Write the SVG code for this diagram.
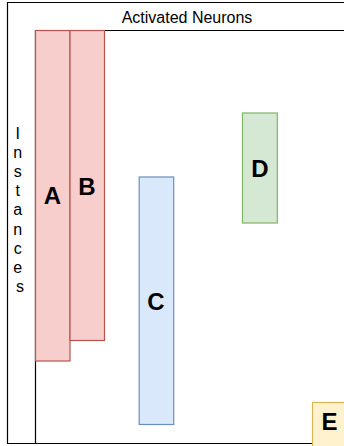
<svg xmlns="http://www.w3.org/2000/svg" width="344" height="446" viewBox="0 0 344 446">
  <style>
    .frame { fill: none; stroke: #000; stroke-width: 1.2; }
    .lbl { font-family: "Liberation Sans", Arial, sans-serif; font-weight: bold; font-size: 24px; text-anchor: middle; fill: #000; }
    .txt { font-family: "Liberation Sans", Arial, sans-serif; font-size: 16px; text-anchor: middle; fill: #000; }
    .red { fill: #f8cecc; stroke: #b85450; stroke-width: 1.2; }
    .blue { fill: #dae8fc; stroke: #6c8ebf; stroke-width: 1.2; }
    .green { fill: #d5e8d4; stroke: #82b366; stroke-width: 1.2; }
    .yellow { fill: #fff2cc; stroke: #d6b656; stroke-width: 1.2; }
  </style>
  <rect width="344" height="446" fill="#fff"/>
  <g id="frame">
    <path class="frame" d="M 350 2.5 L 7.5 2.5 L 7.5 443.5 L 350 443.5"/>
    <path class="frame" d="M 35.5 443.5 L 35.5 30.5 L 350 30.5"/>
    <text class="txt" x="187" y="23">Activated Neurons</text>
    <text class="txt" x="20">
      <tspan x="20" y="138.5">I</tspan>
      <tspan x="20" y="157.7">n</tspan>
      <tspan x="20" y="176.9">s</tspan>
      <tspan x="20" y="196.1">t</tspan>
      <tspan x="20" y="215.3">a</tspan>
      <tspan x="20" y="234.5">n</tspan>
      <tspan x="20" y="253.7">c</tspan>
      <tspan x="20" y="272.9">e</tspan>
      <tspan x="20" y="292.1">s</tspan>
    </text>
  </g>
  <g id="node-A">
    <rect class="red" x="35.5" y="30.5" width="34.5" height="330.5"/>
    <text class="lbl" x="52.5" y="204">A</text>
  </g>
  <g id="node-B">
    <rect class="red" x="70" y="30.5" width="34.5" height="310"/>
    <text class="lbl" x="87" y="195">B</text>
  </g>
  <g id="node-C">
    <rect class="blue" x="139.2" y="177" width="34.5" height="247.5"/>
    <text class="lbl" x="156" y="309.5">C</text>
  </g>
  <g id="node-D">
    <rect class="green" x="242.5" y="113" width="34.8" height="110"/>
    <text class="lbl" x="260" y="177">D</text>
  </g>
  <g id="node-E">
    <rect class="yellow" x="312.5" y="402.5" width="40" height="50"/>
    <text class="lbl" x="329.5" y="429.5">E</text>
  </g>
  <g id="connectors"/>
</svg>
